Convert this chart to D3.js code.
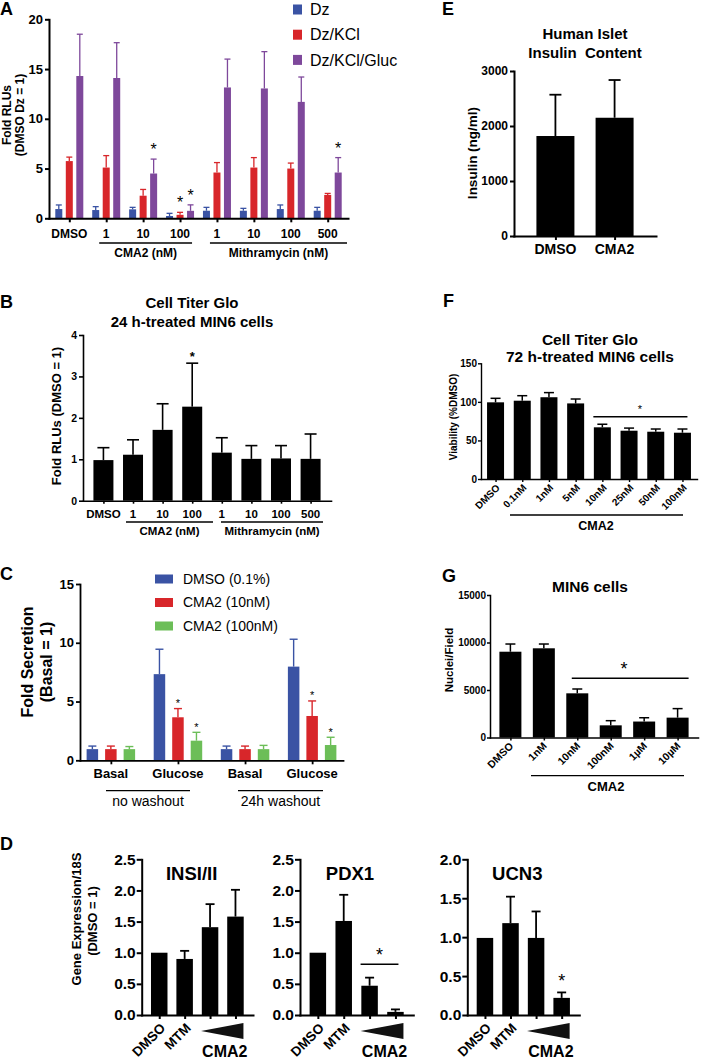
<!DOCTYPE html>
<html><head><meta charset="utf-8">
<script src="https://cdn.jsdelivr.net/npm/d3@7"></script>
<style>
body{margin:0;background:#fff;}
svg{display:block;font-family:"Liberation Sans",Arial,Helvetica,sans-serif;}
</style></head><body>
<svg id="fig" width="704" height="1062"></svg>
<script>
// ---------------- DATA ----------------
// Panel A
const aCategories = ["DMSO","CMA2-1","CMA2-10","CMA2-100","MTM-1","MTM-10","MTM-100","MTM-500"];
const aTickLabels = ["DMSO","1","10","100","1","10","100","500"];
const aSeries = ["Dz","Dz/KCl","Dz/KCl/Gluc"];
const aDz = [0.93,0.83,0.90,0.23,0.76,0.76,0.93,0.76];
const aDzSD = [0.41,0.34,0.20,0.27,0.34,0.24,0.41,0.34];
const aKCl = [5.75,5.10,2.27,0.35,4.60,5.10,5.00,2.35];
const aKClSD = [0.40,1.20,0.63,0.25,1.00,1.00,0.55,0.15];
const aGluc = [14.3,14.1,4.5,0.75,13.15,13.05,11.7,4.6];
const aGlucSD = [4.2,3.55,1.45,0.60,2.85,3.70,2.50,1.50];
const aYTicks = [0,5,10,15,20];
const aGroups = ["CMA2 (nM)","Mithramycin (nM)"];
const aStars = [[2,2],[3,1],[3,2],[7,2]];

// Panel B
const bCategories = ["DMSO","CMA2-1","CMA2-10","CMA2-100","MTM-1","MTM-10","MTM-100","MTM-500"];
const bTickLabels = ["DMSO","1","10","100","1","10","100","500"];
const bMean = [0.98,1.11,1.71,2.27,1.16,1.01,1.02,1.01];
const bSD = [0.30,0.36,0.63,1.05,0.36,0.32,0.31,0.60];
const bYTicks = [0,1,2,3,4];
const bGroups = ["CMA2 (nM)","Mithramycin (nM)"];

// Panel C
const cCategories = ["Basal-nw","Glucose-nw","Basal-24h","Glucose-24h"];
const cTickLabels = ["Basal","Glucose","Basal","Glucose"];
const cSeries = ["DMSO (0.1%)","CMA2 (10nM)","CMA2 (100nM)"];
const cDMSO = [0.95,7.33,0.95,7.97];
const cDMSOSD = [0.26,2.12,0.26,2.33];
const cCMA10 = [0.95,3.66,0.95,3.77];
const cCMA10SD = [0.26,0.74,0.26,1.28];
const cCMA100 = [0.95,1.67,0.95,1.30];
const cCMA100SD = [0.22,0.71,0.32,0.66];
const cYTicks = [0,5,10,15];
const cGroups = ["no washout","24h washout"];
const cStars = [[1,1],[1,2],[3,1],[3,2]];

// Panel D
const dCategories = ["DMSO","MTM","CMA2-low","CMA2-high"];
const dTickLabels = ["DMSO","MTM"];
const dGenes = ["INSI/II","PDX1","UCN3"];
const dIns = [1.00,0.90,1.41,1.58];
const dInsSD = [0,0.13,0.37,0.43];
const dPdx = [1.00,1.51,0.47,0.05];
const dPdxSD = [0,0.42,0.13,0.04];
const dUcn = [0.99,1.18,0.99,0.22];
const dUcnSD = [0,0.34,0.34,0.07];
const dTicks25 = [0,0.5,1,1.5,2,2.5];
const dTicks20 = [0,0.5,1,1.5,2];

// Panel E
const eCategories = ["DMSO","CMA2"];
const eMean = [1818,2150];
const eSD = [751,686];
const eYTicks = [0,1000,2000,3000];

// Panel F
const fCategories = ["DMSO","0.1nM","1nM","5nM","10nM","25nM","50nM","100nM"];
const fMean = [99.4,101.5,106,98,67,62.6,61.3,60];
const fSD = [5.2,6.5,6.0,5.7,4.0,3.4,3.5,4.8];
const fYTicks = [0,50,100,150];

// Panel G
const gCategories = ["DMSO","1nM","10nM","100nM","1µM","10µM"];
const gMean = [9030,9390,4650,1280,1680,2090];
const gSD = [810,450,455,490,400,950];
const gYTicks = [0,5000,10000,15000];

// ---------------- HELPERS ----------------
const svg = d3.select("#fig");
const FF = "'Liberation Sans', Arial, Helvetica, sans-serif";

function styleAxis(ax, fs, sw){
  ax.attr("font-family", FF);
  ax.select(".domain").attr("stroke","#000").attr("stroke-width",sw).attr("stroke-linecap","square");
  ax.selectAll(".tick line").attr("stroke","#000").attr("stroke-width",sw);
  ax.selectAll(".tick text").attr("font-size",fs).attr("font-weight","bold").attr("fill","#000");
}
function yAxis(g, scale, x, ticks, fmt, fs, sw, len=4, pad=2){
  const ax = g.append("g").attr("transform",`translate(${x},0)`)
    .call(d3.axisLeft(scale).tickValues(ticks).tickFormat(fmt).tickSize(len).tickPadding(pad).tickSizeOuter(0));
  styleAxis(ax, fs, sw); return ax;
}
function xAxis(g, scale, y, sw, len=4){
  const ax = g.append("g").attr("transform",`translate(0,${y})`)
    .call(d3.axisBottom(scale).tickFormat("").tickSize(len).tickSizeOuter(0));
  styleAxis(ax, 10, sw); return ax;
}
function T(g, x, y, s, fs, o={}){
  return g.append("text").attr("x",x).attr("y",y).attr("font-size",fs)
    .attr("font-weight",o.w||"bold").attr("text-anchor",o.a||"middle").attr("fill","#000")
    .style("white-space","pre").text(s);
}
function RT(g, cx, cy, s, fs, ang=-90, o={}){
  return g.append("text").attr("transform",`translate(${cx},${cy}) rotate(${ang})`)
    .attr("font-size",fs).attr("font-weight",o.w||"bold").attr("text-anchor",o.a||"middle")
    .attr("dy",o.dy||"0.35em").attr("fill","#000").text(s);
}
function L(g, x1, y1, x2, y2, sw=1.5, c="#000"){
  g.append("line").attr("x1",x1).attr("y1",y1).attr("x2",x2).attr("y2",y2).attr("stroke",c).attr("stroke-width",sw);
}
function drawBars(g, xs, y, cats, means, sds, o){
  const off = o.offset||0;
  cats.forEach((c,i)=>{
    const cx = xs(c)+off, m = means[i], sd = sds[i];
    g.append("rect").attr("x",cx-o.width/2).attr("y",y(m)).attr("width",o.width)
      .attr("height",y(0)-y(m)).attr("fill",o.color);
    if(sd>0){
      L(g, cx, y(m), cx, y(m+sd), o.sw, o.color);
      L(g, cx-o.capW/2, y(m+sd), cx+o.capW/2, y(m+sd), o.sw, o.color);
    }
  });
}
function label(s,x,y){ T(svg,x,y,s,18,{a:"start"}); }

// ---------------- PANEL A ----------------
{
  const g = svg.append("g");
  const aColors = ["#3a53a4","#d8262a","#7e489b"];
  const x = d3.scalePoint().domain(aCategories).range([49,348]).padding(0.55);
  const y = d3.scaleLinear().domain([0,20]).range([218.3,19.3]);
  const sub = d3.scalePoint().domain(aSeries).range([-10.5,10.5]);
  const vals = [aDz,aKCl,aGluc], sds = [aDzSD,aKClSD,aGlucSD];
  aSeries.forEach((s,k)=>drawBars(g,x,y,aCategories,vals[k],sds[k],{offset:sub(s),width:7,color:aColors[k],capW:6,sw:1.3}));
  yAxis(g,y,49,aYTicks,d3.format("d"),13,2);
  xAxis(g,x,218.3,2);
  aCategories.forEach((c,i)=>T(g,x(c),238,aTickLabels[i],12));
  const spans = [[x(aCategories[1])-7, x(aCategories[3])+12],[x(aCategories[4])-7, 347]];
  spans.forEach((s,i)=>{ L(g,s[0],243,s[1],243,1.3); T(g,(s[0]+s[1])/2,257,aGroups[i],12); });
  aStars.forEach(([ci,si])=>{
    const cx = x(aCategories[ci])+sub(aSeries[si]);
    T(g,cx,y(vals[si][ci]+sds[si][ci])-4,"*",16,{w:"normal"});
  });
  RT(g,7,115,"Fold RLUs",12);
  RT(g,20,115,"(DMSO Dz = 1)",12);
  aSeries.forEach((s,k)=>{
    const cy = 9.5+k*25.2;
    g.append("rect").attr("x",293).attr("y",cy-5).attr("width",9).attr("height",10).attr("fill",aColors[k]);
    T(g,310,cy,s,16,{a:"start",w:"normal"}).attr("dy","0.35em");
  });
  label("A",0,15);
}

// ---------------- PANEL B ----------------
{
  const g = svg.append("g");
  const x = d3.scalePoint().domain(bCategories).range([83,331]).padding(0.69);
  const y = d3.scaleLinear().domain([0,4]).range([500.7,335]);
  drawBars(g,x,y,bCategories,bMean,bSD,{width:20,color:"#000",capW:12,sw:1.6});
  yAxis(g,y,83,bYTicks,d3.format("d"),10.5,1.6);
  xAxis(g,x,500.7,1.6,3);
  bCategories.forEach((c,i)=>T(g,x(c),518,bTickLabels[i],11.5));
  const spans = [[126,213],[221,323]];
  spans.forEach((s,i)=>{ L(g,s[0],522,s[1],522,1.3); T(g,(s[0]+s[1])/2,535,bGroups[i],11.5); });
  T(g,x(bCategories[3]),y(bMean[3]+bSD[3])-2,"*",13);
  T(g,192,308,"Cell Titer Glo",15);
  T(g,192,327,"24 h-treated MIN6 cells",15);
  RT(g,56,416,"Fold RLUs (DMSO = 1)",13);
  label("B",0,308);
}

// ---------------- PANEL C ----------------
{
  const g = svg.append("g");
  const cColors = ["#3a53a4","#d8262a","#6cbe58"];
  const x = d3.scalePoint().domain(cCategories).range([80,343]).padding(0.46);
  const y = d3.scaleLinear().domain([0,15]).range([760.3,584]);
  const sub = d3.scalePoint().domain(cSeries).range([-18.5,18.5]);
  const vals = [cDMSO,cCMA10,cCMA100], sds = [cDMSOSD,cCMA10SD,cCMA100SD];
  cSeries.forEach((s,k)=>drawBars(g,x,y,cCategories,vals[k],sds[k],{offset:sub(s),width:11.5,color:cColors[k],capW:8,sw:1.4}));
  yAxis(g,y,80,cYTicks,d3.format("d"),13,1.8);
  xAxis(g,x,760.3,1.8);
  cCategories.forEach((c,i)=>T(g,x(c),778,cTickLabels[i],13));
  const spans = [[106,190],[238,323]];
  spans.forEach((s,i)=>{ L(g,s[0],790.7,s[1],790.7,1.3); T(g,(s[0]+s[1])/2,806,cGroups[i],14,{w:"normal"}); });
  cStars.forEach(([ci,si])=>{
    const cx = x(cCategories[ci])+sub(cSeries[si]);
    T(g,cx,y(vals[si][ci]+sds[si][ci])-1.5,"*",11,{w:"normal"});
  });
  RT(g,27,662,"Fold Secretion",16);
  RT(g,46,662,"(Basal = 1)",16);
  cSeries.forEach((s,k)=>{
    const cy = 579+k*23.5;
    g.append("rect").attr("x",155).attr("y",cy-4.5).attr("width",18).attr("height",9).attr("fill",cColors[k]);
    T(g,183,cy,s,14,{a:"start",w:"normal"}).attr("dy","0.35em");
  });
  label("C",0,580);
}

// ---------------- PANEL D ----------------
{
  const g = svg.append("g");
  const layouts = [
    {x0:141.7,x1:253,max:2.5,ticks:dTicks25,m:dIns,sd:dInsSD},
    {x0:300,x1:413.3,max:2.5,ticks:dTicks25,m:dPdx,sd:dPdxSD},
    {x0:467.3,x1:579.3,max:2.0,ticks:dTicks20,m:dUcn,sd:dUcnSD}
  ];
  layouts.forEach((p,k)=>{
    const x = d3.scalePoint().domain(dCategories).range([p.x0,p.x1]).padding(0.69);
    const y = d3.scaleLinear().domain([0,p.max]).range([1015,859.3]);
    drawBars(g,x,y,dCategories,p.m,p.sd,{width:16.5,color:"#000",capW:9,sw:1.8});
    yAxis(g,y,p.x0,p.ticks,d3.format(".1f"),15.5,2,5,1);
    xAxis(g,x,1015,2);
    T(g,p.x0+50,880,dGenes[k],18.5);
    dTickLabels.forEach((t,i)=>RT(g,x(dCategories[i])+3.7,1025.5,t,13.5,-45,{a:"end"}));
    const xl = x(dCategories[2]), xh = x(dCategories[3]);
    g.append("polygon").attr("points",`${xl-9},1031 ${xh+8},1023 ${xh+8},1039`).attr("fill","#111");
    T(g,(xl+xh)/2+2,1056.5,"CMA2",16);
    if(k===1){
      L(g,xl-9,964.3,xh+3,964.3,1.6);
      T(g,(xl+xh)/2-3,960.5,"*",18,{w:"normal"});
    }
    if(k===2){
      T(g,xh,y(p.m[3]+p.sd[3])-5.5,"*",18,{w:"normal"});
    }
  });
  RT(g,76,919,"Gene Expression/18S",13);
  RT(g,92,921,"(DMSO = 1)",13);
  label("D",0,850);
}

// ---------------- PANEL E ----------------
{
  const g = svg.append("g");
  const x = d3.scalePoint().domain(eCategories).range([514,656]).padding(0.70);
  const y = d3.scaleLinear().domain([0,3000]).range([236,71]);
  drawBars(g,x,y,eCategories,eMean,eSD,{width:38,color:"#000",capW:12,sw:1.8});
  yAxis(g,y,514,eYTicks,d3.format("d"),12,2);
  xAxis(g,x,236,2);
  eCategories.forEach(c=>T(g,x(c),254,c,14));
  T(g,585,39,"Human Islet",15);
  T(g,585,58,"Insulin  Content",15);
  RT(g,472,153,"Insulin (ng/ml)",13.5);
  label("E",442,15);
}

// ---------------- PANEL F ----------------
{
  const g = svg.append("g");
  const x = d3.scalePoint().domain(fCategories).range([481,697]).padding(0.545);
  const y = d3.scaleLinear().domain([0,150]).range([479,363.3]);
  drawBars(g,x,y,fCategories,fMean,fSD,{width:17,color:"#000",capW:10,sw:1.5});
  yAxis(g,y,481,fYTicks,d3.format("d"),10,1.4,3,1);
  xAxis(g,x,479,1.4,3);
  fCategories.forEach(c=>RT(g,x(c)+2.5,486,c,10,-45,{a:"end"}));
  L(g,x("10nM")-9,416.7,x("100nM")+5,416.7,1.5);
  T(g,640,413,"*",11,{w:"normal"});
  L(g,510,515,683,515,1.3);
  T(g,596,530,"CMA2",12.5);
  T(g,590,345,"Cell Titer Glo",15.5);
  T(g,590,362,"72 h-treated MIN6 cells",15.5);
  RT(g,453,417,"Viability (%DMSO)",10);
  label("F",443,307);
}

// ---------------- PANEL G ----------------
{
  const g = svg.append("g");
  const x = d3.scalePoint().domain(gCategories).range([490,698]).padding(0.61);
  const y = d3.scaleLinear().domain([0,15000]).range([737.5,595]);
  drawBars(g,x,y,gCategories,gMean,gSD,{width:22,color:"#000",capW:10,sw:1.5});
  yAxis(g,y,490,gYTicks,d3.format("d"),10,1.5,3,1);
  xAxis(g,x,737.5,1.5,3);
  gCategories.forEach(c=>RT(g,x(c)+1,744,c,10.5,-45,{a:"end"}));
  L(g,x("10nM")-5.5,678.3,x("10µM")+11,678.3,1.5);
  T(g,624,675.4,"*",18,{w:"normal"});
  L(g,531,775.7,684,775.7,1.3);
  T(g,606,790.7,"CMA2",13);
  T(g,590,592,"MIN6 cells",15.5);
  RT(g,449,660,"Nuclei/Field",11.5);
  label("G",442,582);
}
</script>
</body></html>
